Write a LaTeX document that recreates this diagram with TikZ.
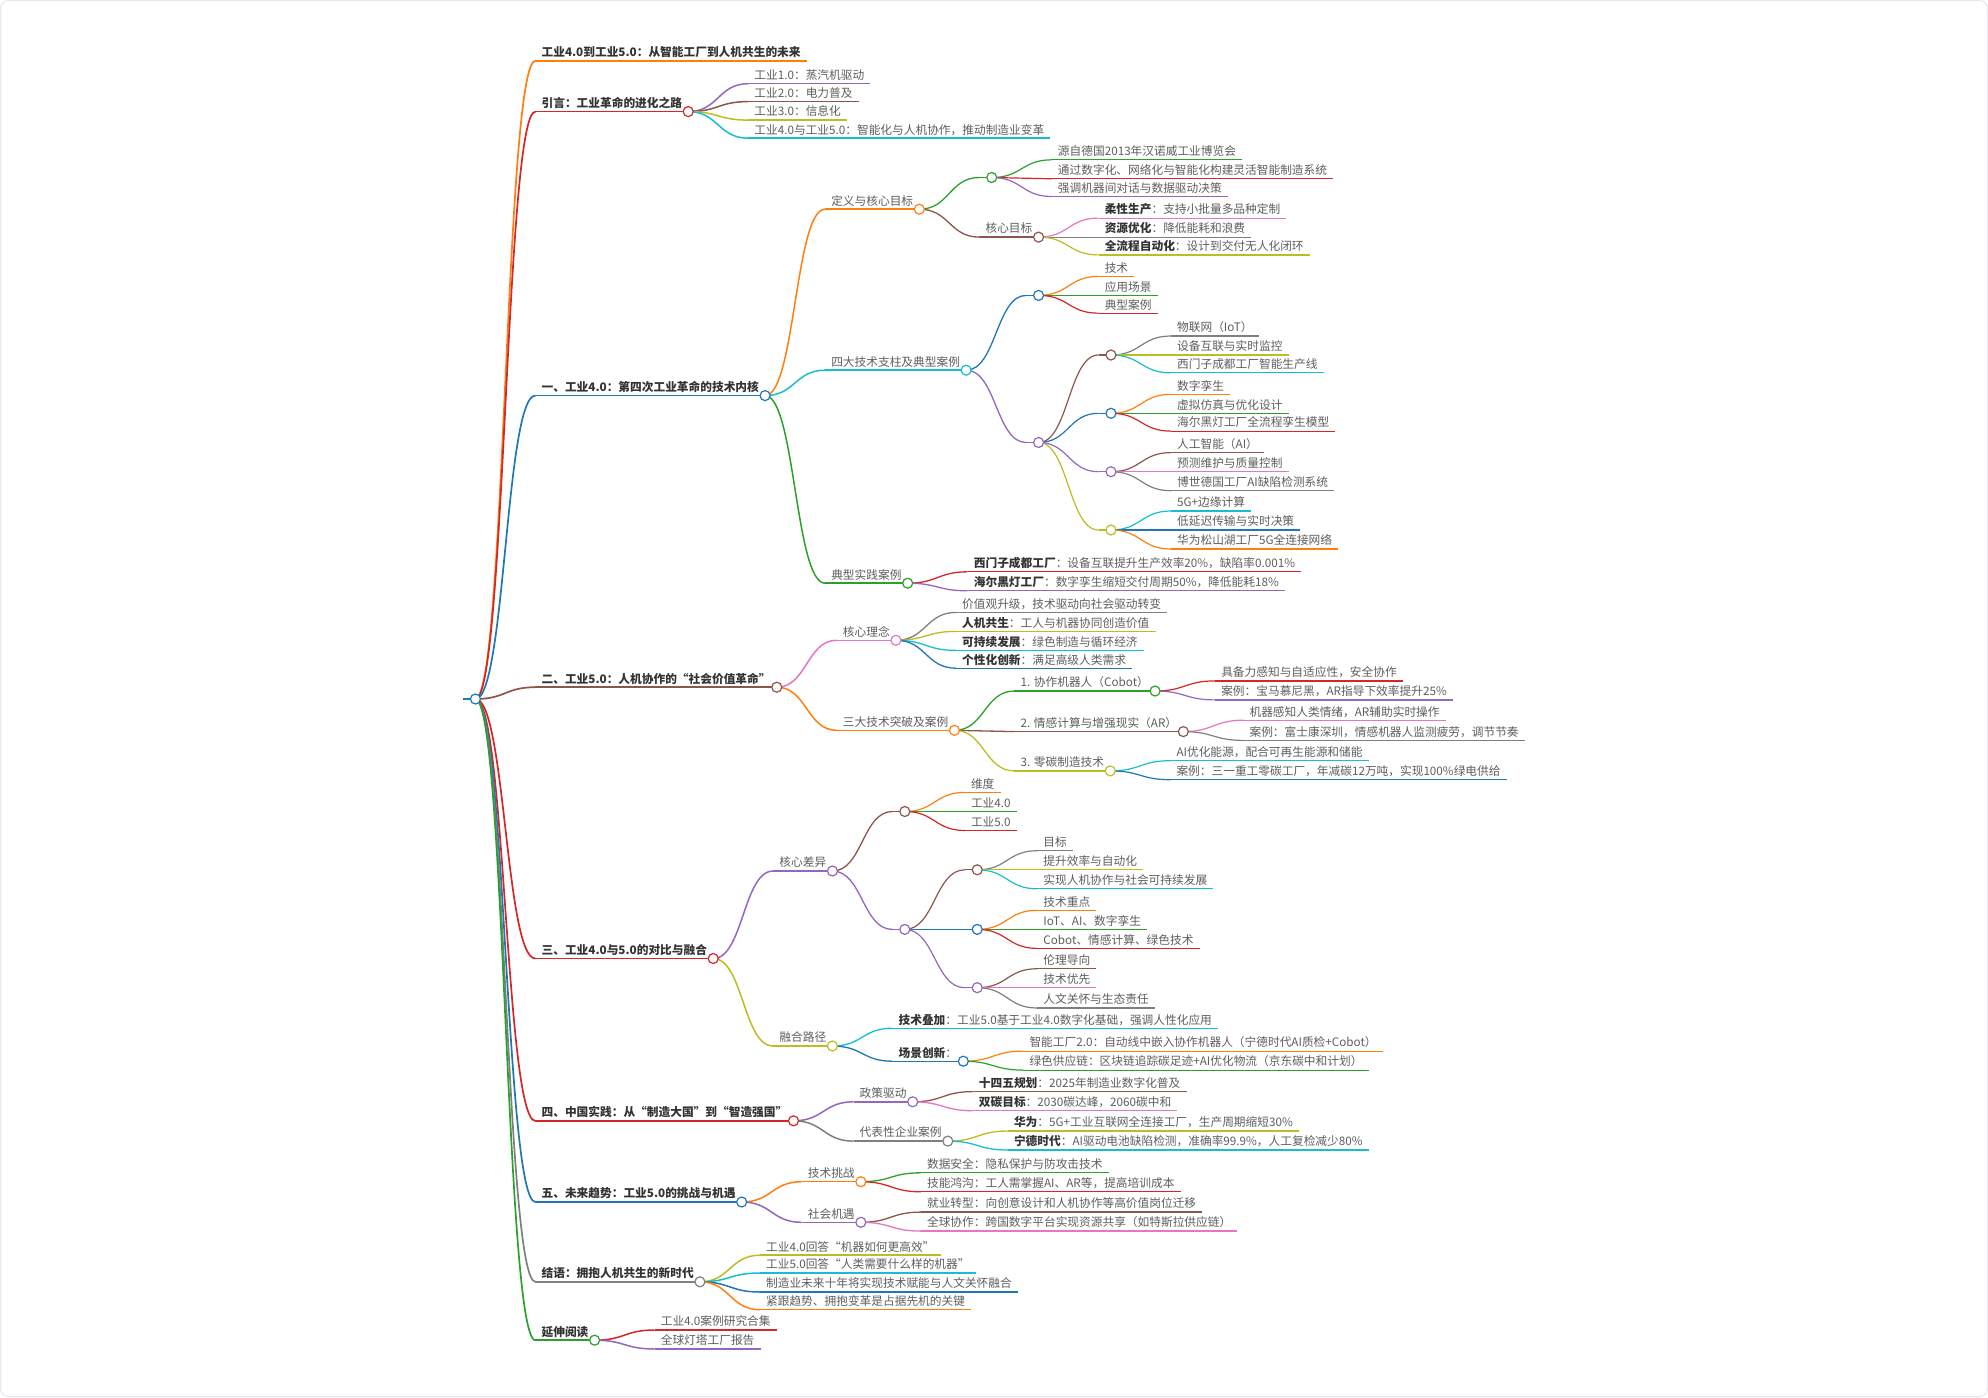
\documentclass[tikz,border=0pt]{standalone}
\usepackage{fontspec}
\setmainfont{Noto Sans CJK SC}
\usetikzlibrary{calc}
\pgfdeclarelayer{bg}\pgfdeclarelayer{fg}\pgfsetlayers{bg,main,fg}
\definecolor{cBlue}{HTML}{1F77B4}
\definecolor{cOrange}{HTML}{FF7F0E}
\definecolor{cGreen}{HTML}{2CA02C}
\definecolor{cRed}{HTML}{D62728}
\definecolor{cPurple}{HTML}{9467BD}
\definecolor{cBrown}{HTML}{8C564B}
\definecolor{cPink}{HTML}{E377C2}
\definecolor{cGray}{HTML}{7F7F7F}
\definecolor{cOlive}{HTML}{BCBD22}
\definecolor{cCyan}{HTML}{17BECF}
\definecolor{txt}{HTML}{5E5E5E}
\definecolor{btxt}{HTML}{333333}
\definecolor{framecol}{HTML}{E6E6EE}
\newcommand\bt[1]{{\bfseries\color{btxt}#1}}
\tikzset{mmtext/.style={anchor=south west, inner xsep=6pt, inner ysep=4pt, text depth=0pt, text height=9pt, text=txt, font=\fontsize{11.7pt}{14pt}\selectfont}}
\def\wA{1.7pt}\def\wB{1.5pt}\def\wC{1.3pt}\def\wD{1.2pt}
% parent, name, y, colour, width, text
\newcommand\mmn[6]{%
  \path let \p1=(#1.south east) in (\x1+60pt,-#3pt) node[mmtext] (#2) {#6};
  \draw[draw=#4, line width=#5] (#2.south west) -- (#2.south east);
  \begin{pgfonlayer}{bg}
  \draw[draw=#4, line width=#5] let \p1=(#1.south east), \p2=(#2.south west) in
    (\p1) .. controls ({(\x1+\x2)/2},\y1) and ({(\x1+\x2)/2},\y2) .. (\p2);
  \end{pgfonlayer}}
\newcommand\mmc[2]{\begin{pgfonlayer}{fg}\draw[draw=#2, line width=1.2pt, fill=white] (#1.south east) circle[radius=5pt];\end{pgfonlayer}}
\begin{document}
\begin{tikzpicture}[x=1pt,y=-1pt]
\useasboundingbox (0,0) rectangle (1988,1397);
\begin{pgfonlayer}{bg}
\fill[white] (0,0) rectangle (1988,1397);
\draw[framecol, line width=1pt, rounded corners=8pt] (0.5,0.5) rectangle (1987.5,1396.5);
\end{pgfonlayer}
% root
\node[mmtext] (root) at (463,699) {};
\draw[cBlue, line width=2.5pt] (root.south west) -- (root.south east);
\mmc{root}{cBlue}
% level 1
\mmn{root}{t}{60.9}{cOrange}{\wA}{\bt{工业4.0到工业5.0：从智能工厂到人机共生的未来}}
\mmn{root}{a}{111.6}{cRed}{\wA}{\bt{引言：工业革命的进化之路}}\mmc{a}{cRed}
\mmn{root}{b}{395.6}{cBlue}{\wA}{\bt{一、工业4.0：第四次工业革命的技术内核}}\mmc{b}{cBlue}
\mmn{root}{c}{687.2}{cBrown}{\wA}{\bt{二、工业5.0：人机协作的“社会价值革命”}}\mmc{c}{cBrown}
\mmn{root}{d}{958.5}{cRed}{\wA}{\bt{三、工业4.0与5.0的对比与融合}}\mmc{d}{cRed}
\mmn{root}{e}{1120.8}{cRed}{\wA}{\bt{四、中国实践：从“制造大国”到“智造强国”}}\mmc{e}{cRed}
\mmn{root}{f}{1202}{cBlue}{\wA}{\bt{五、未来趋势：工业5.0的挑战与机遇}}\mmc{f}{cBlue}
\mmn{root}{g}{1281.8}{cGray}{\wA}{\bt{结语：拥抱人机共生的新时代}}\mmc{g}{cGray}
\mmn{root}{h}{1340.2}{cGreen}{\wA}{\bt{延伸阅读}}\mmc{h}{cGreen}
% intro
\mmn{a}{a1}{83.7}{cPurple}{\wB}{工业1.0：蒸汽机驱动}
\mmn{a}{a2}{101.6}{cBrown}{\wB}{工业2.0：电力普及}
\mmn{a}{a3}{120.1}{cOlive}{\wB}{工业3.0：信息化}
\mmn{a}{a4}{138.2}{cCyan}{\wB}{工业4.0与工业5.0：智能化与人机协作，推动制造业变革}
% section 1
\mmn{b}{b1}{209.2}{cOrange}{\wB}{定义与核心目标}\mmc{b1}{cOrange}
\mmn{b1}{b1a}{177.5}{cGreen}{\wC}{}\mmc{b1a}{cGreen}
\mmn{b1a}{b1a1}{159.8}{cGreen}{\wD}{源自德国2013年汉诺威工业博览会}
\mmn{b1a}{b1a2}{178.8}{cRed}{\wD}{通过数字化、网络化与智能化构建灵活智能制造系统}
\mmn{b1a}{b1a3}{196.5}{cPurple}{\wD}{强调机器间对话与数据驱动决策}
\mmn{b1}{b1b}{237.1}{cBrown}{\wC}{核心目标}\mmc{b1b}{cBrown}
\mmn{b1b}{b1b1}{218.1}{cPink}{\wD}{\bt{柔性生产}：支持小批量多品种定制}
\mmn{b1b}{b1b2}{237.1}{cGray}{\wD}{\bt{资源优化}：降低能耗和浪费}
\mmn{b1b}{b1b3}{254.9}{cOlive}{\wD}{\bt{全流程自动化}：设计到交付无人化闭环}
\mmn{b}{b2}{370.2}{cCyan}{\wB}{四大技术支柱及典型案例}\mmc{b2}{cCyan}
\mmn{b2}{b2a}{295.4}{cBlue}{\wC}{}\mmc{b2a}{cBlue}
\mmn{b2a}{b2a1}{276.4}{cOrange}{\wD}{技术}
\mmn{b2a}{b2a2}{295.4}{cGreen}{\wD}{应用场景}
\mmn{b2a}{b2a3}{313.2}{cRed}{\wD}{典型案例}
\mmn{b2}{b2b}{442.5}{cPurple}{\wC}{}\mmc{b2b}{cPurple}
\mmn{b2b}{b2b1}{355}{cBrown}{\wD}{}\mmc{b2b1}{cBrown}
\mmn{b2b1}{b2b1a}{336}{cGray}{\wD}{物联网（IoT）}
\mmn{b2b1}{b2b1b}{355}{cOlive}{\wD}{设备互联与实时监控}
\mmn{b2b1}{b2b1c}{372.8}{cCyan}{\wD}{西门子成都工厂智能生产线}
\mmn{b2b}{b2b2}{413.3}{cBlue}{\wD}{}\mmc{b2b2}{cBlue}
\mmn{b2b2}{b2b2a}{394.3}{cOrange}{\wD}{数字孪生}
\mmn{b2b2}{b2b2b}{413.3}{cGreen}{\wD}{虚拟仿真与优化设计}
\mmn{b2b2}{b2b2c}{431.1}{cRed}{\wD}{海尔黑灯工厂全流程孪生模型}
\mmn{b2b}{b2b3}{471.7}{cPurple}{\wD}{}\mmc{b2b3}{cPurple}
\mmn{b2b3}{b2b3a}{452.6}{cBrown}{\wD}{人工智能（AI）}
\mmn{b2b3}{b2b3b}{471.7}{cPink}{\wD}{预测维护与质量控制}
\mmn{b2b3}{b2b3c}{490.7}{cGray}{\wD}{博世德国工厂AI缺陷检测系统}
\mmn{b2b}{b2b4}{530}{cOlive}{\wD}{}\mmc{b2b4}{cOlive}
\mmn{b2b4}{b2b4a}{511}{cCyan}{\wD}{5G+边缘计算}
\mmn{b2b4}{b2b4b}{530}{cBlue}{\wD}{低延迟传输与实时决策}
\mmn{b2b4}{b2b4c}{549}{cOrange}{\wD}{华为松山湖工厂5G全连接网络}
\mmn{b}{b3}{583.2}{cGreen}{\wB}{典型实践案例}\mmc{b3}{cGreen}
\mmn{b3}{b3a}{571.8}{cRed}{\wC}{\bt{西门子成都工厂}：设备互联提升生产效率20\%，缺陷率0.001\%}
\mmn{b3}{b3b}{590.8}{cPurple}{\wC}{\bt{海尔黑灯工厂}：数字孪生缩短交付周期50\%，降低能耗18\%}
% section 2
\mmn{c}{c1}{640.3}{cPink}{\wB}{核心理念}\mmc{c1}{cPink}
\mmn{c1}{c1a}{612.4}{cGray}{\wC}{价值观升级，技术驱动向社会驱动转变}
\mmn{c1}{c1b}{631.4}{cOlive}{\wC}{\bt{人机共生}：工人与机器协同创造价值}
\mmn{c1}{c1c}{650.4}{cCyan}{\wC}{\bt{可持续发展}：绿色制造与循环经济}
\mmn{c1}{c1d}{668.2}{cBlue}{\wC}{\bt{个性化创新}：满足高级人类需求}
\mmn{c}{c2}{730.3}{cOrange}{\wB}{三大技术突破及案例}\mmc{c2}{cOrange}
\mmn{c2}{c2a}{691}{cGreen}{\wC}{1. 协作机器人（Cobot）}\mmc{c2a}{cGreen}
\mmn{c2a}{c2a1}{680.9}{cRed}{\wD}{具备力感知与自适应性，安全协作}
\mmn{c2a}{c2a2}{699.9}{cPurple}{\wD}{案例：宝马慕尼黑，AR指导下效率提升25\%}
\mmn{c2}{c2b}{731.6}{cBrown}{\wC}{2. 情感计算与增强现实（AR）}\mmc{c2b}{cBrown}
\mmn{c2b}{c2b1}{720.2}{cPink}{\wD}{机器感知人类情绪，AR辅助实时操作}
\mmn{c2b}{c2b2}{740.4}{cGray}{\wD}{案例：富士康深圳，情感机器人监测疲劳，调节节奏}
\mmn{c2}{c2c}{770.9}{cOlive}{\wC}{3. 零碳制造技术}\mmc{c2c}{cOlive}
\mmn{c2c}{c2c1}{760.7}{cCyan}{\wD}{AI优化能源，配合可再生能源和储能}
\mmn{c2c}{c2c2}{779.7}{cBlue}{\wD}{案例：三一重工零碳工厂，年减碳12万吨，实现100\%绿电供给}
% section 3
\mmn{d}{d1}{871}{cPurple}{\wB}{核心差异}\mmc{d1}{cPurple}
\mmn{d1}{d1a}{811.5}{cBrown}{\wC}{}\mmc{d1a}{cBrown}
\mmn{d1a}{d1a1}{792.4}{cOrange}{\wD}{维度}
\mmn{d1a}{d1a2}{811.5}{cGreen}{\wD}{工业4.0}
\mmn{d1a}{d1a3}{830.5}{cRed}{\wD}{工业5.0}
\mmn{d1}{d1b}{929.4}{cPurple}{\wC}{}\mmc{d1b}{cPurple}
\mmn{d1b}{d1b1}{869.8}{cBrown}{\wD}{}\mmc{d1b1}{cBrown}
\mmn{d1b1}{d1b1a}{850.7}{cGray}{\wD}{目标}
\mmn{d1b1}{d1b1b}{869.8}{cOlive}{\wD}{提升效率与自动化}
\mmn{d1b1}{d1b1c}{888.8}{cCyan}{\wD}{实现人机协作与社会可持续发展}
\mmn{d1b}{d1b2}{929.4}{cBlue}{\wD}{}\mmc{d1b2}{cBlue}
\mmn{d1b2}{d1b2a}{910.3}{cOrange}{\wD}{技术重点}
\mmn{d1b2}{d1b2b}{929.4}{cGreen}{\wD}{IoT、AI、数字孪生}
\mmn{d1b2}{d1b2c}{948.4}{cRed}{\wD}{Cobot、情感计算、绿色技术}
\mmn{d1b}{d1b3}{987.7}{cPurple}{\wD}{}\mmc{d1b3}{cPurple}
\mmn{d1b3}{d1b3a}{968.7}{cBrown}{\wD}{伦理导向}
\mmn{d1b3}{d1b3b}{987.7}{cPink}{\wD}{技术优先}
\mmn{d1b3}{d1b3c}{1008}{cGray}{\wD}{人文关怀与生态责任}
\mmn{d}{d2}{1046}{cOlive}{\wB}{融合路径}\mmc{d2}{cOlive}
\mmn{d2}{d2a}{1028.2}{cCyan}{\wC}{\bt{技术叠加}：工业5.0基于工业4.0数字化基础，强调人性化应用}
\mmn{d2}{d2b}{1061.2}{cBlue}{\wC}{\bt{场景创新}：}\mmc{d2b}{cBlue}
\mmn{d2b}{d2b1}{1051.1}{cOrange}{\wD}{智能工厂2.0：自动线中嵌入协作机器人（宁德时代AI质检+Cobot）}
\mmn{d2b}{d2b2}{1070.1}{cGreen}{\wD}{绿色供应链：区块链追踪碳足迹+AI优化物流（京东碳中和计划）}
% section 4
\mmn{e}{e1}{1101.8}{cPurple}{\wB}{政策驱动}\mmc{e1}{cPurple}
\mmn{e1}{e1a}{1091.6}{cBrown}{\wC}{\bt{十四五规划}：2025年制造业数字化普及}
\mmn{e1}{e1b}{1110.7}{cPink}{\wC}{\bt{双碳目标}：2030碳达峰，2060碳中和}
\mmn{e}{e2}{1141.1}{cGray}{\wB}{代表性企业案例}\mmc{e2}{cGray}
\mmn{e2}{e2a}{1131}{cOlive}{\wC}{\bt{华为}：5G+工业互联网全连接工厂，生产周期缩短30\%}
\mmn{e2}{e2b}{1150}{cCyan}{\wC}{\bt{宁德时代}：AI驱动电池缺陷检测，准确率99.9\%，人工复检减少80\%}
% section 5
\mmn{f}{f1}{1181.7}{cOrange}{\wB}{技术挑战}\mmc{f1}{cOrange}
\mmn{f1}{f1a}{1172.8}{cGreen}{\wC}{数据安全：隐私保护与防攻击技术}
\mmn{f1}{f1b}{1191.8}{cRed}{\wC}{技能鸿沟：工人需掌握AI、AR等，提高培训成本}
\mmn{f}{f2}{1222.3}{cPurple}{\wB}{社会机遇}\mmc{f2}{cPurple}
\mmn{f2}{f2a}{1212.1}{cBrown}{\wC}{就业转型：向创意设计和人机协作等高价值岗位迁移}
\mmn{f2}{f2b}{1231.1}{cPink}{\wC}{全球协作：跨国数字平台实现资源共享（如特斯拉供应链）}
% conclusion
\mmn{g}{g1}{1255.2}{cOlive}{\wB}{工业4.0回答“机器如何更高效”}
\mmn{g}{g2}{1273}{cCyan}{\wB}{工业5.0回答“人类需要什么样的机器”}
\mmn{g}{g3}{1292}{cBlue}{\wB}{制造业未来十年将实现技术赋能与人文关怀融合}
\mmn{g}{g4}{1309.7}{cOrange}{\wB}{紧跟趋势、拥抱变革是占据先机的关键}
% reading
\mmn{h}{h1}{1330}{cRed}{\wB}{工业4.0案例研究合集}
\mmn{h}{h2}{1349}{cPurple}{\wB}{全球灯塔工厂报告}
\end{tikzpicture}
\end{document}
